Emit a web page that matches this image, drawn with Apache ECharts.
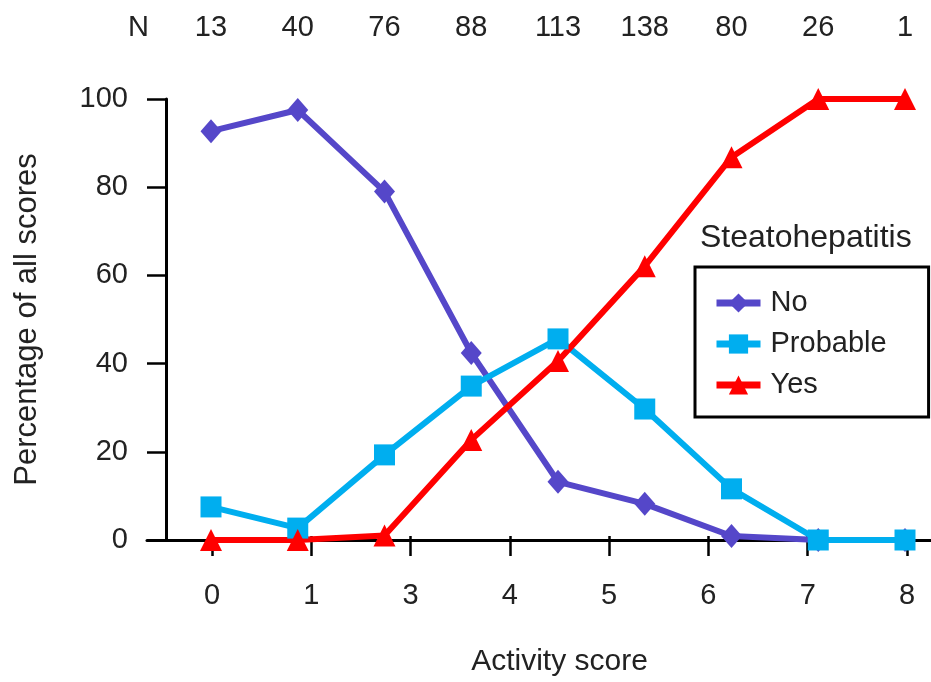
<!DOCTYPE html>
<html>
<head>
<meta charset="utf-8">
<script src="https://cdn.jsdelivr.net/npm/echarts@6/dist/echarts.min.js"></script>
<style>
  html, body { margin: 0; padding: 0; background: #fff; }
  #chart { width: 931px; height: 682px; }
</style>
</head>
<body>
<div id="chart"></div>
<script>
// N per activity score (top row) and the bottom tick labels
const nLabels = ['13', '40', '76', '88', '113', '138', '80', '26', '1'];
const scoreLabels = ['0', '1', '3', '4', '5', '6', '7', '8'];

// percentage of all scores
const noVals = [92.7, 97.5, 79, 42.4, 13.2, 8.2, 0.9, 0, 0];
const probableVals = [7.5, 2.7, 19.3, 34.9, 45.6, 29.7, 11.6, 0, 0];
const yesVals = [0, 0, 1, 22.7, 40.6, 62.1, 86.8, 100, 100];

const font = 'Liberation Sans, Arial, sans-serif';
const textColor = '#222';

var chart = echarts.init(document.getElementById('chart'));

var option = {
  animation: false,
  backgroundColor: '#fff',
  textStyle: { fontFamily: font },
  title: [
    {
      text: 'Steatohepatitis',
      left: 695,
      top: 217,
      textStyle: { fontFamily: font, fontSize: 32, fontWeight: 'normal', color: textColor }
    },
    {
      // the "N" heading of the top row
      text: 'N',
      left: 123,
      top: 8,
      textStyle: { fontFamily: font, fontSize: 29, fontWeight: 'normal', color: textColor }
    }
  ],
  legend: {
    orient: 'vertical',
    left: 695,
    top: 267,
    padding: [21, 42, 17, 18],
    borderColor: '#000',
    borderWidth: 3,
    itemWidth: 44,
    itemHeight: 24,
    itemGap: 11,
    lineStyle: { width: 7 },
    textStyle: { fontFamily: font, fontSize: 29, color: textColor, lineHeight: 30, padding: [0, 0, 0, 5] },
    data: ['No', 'Probable', 'Yes']
  },
  grid: [
    // axis frame: x line runs past the y axis to the right edge
    { left: 147, right: 0, top: 99, bottom: 142 },
    // data
    { left: 211, right: 26, top: 99, bottom: 142 },
    // bottom ticks
    { left: 212, right: 24, top: 99, bottom: 142 }
  ],
  xAxis: [
    {
      gridIndex: 0, type: 'value', min: 0, max: 1,
      axisLine: { onZero: false, lineStyle: { color: '#000', width: 3 } },
      axisTick: { show: false }, axisLabel: { show: false }, splitLine: { show: false }
    },
    {
      gridIndex: 1, type: 'category', data: nLabels, boundaryGap: false,
      position: 'top', offset: 71,
      axisLine: { show: false }, axisTick: { show: false },
      axisLabel: { margin: 0, verticalAlign: 'middle', fontFamily: font, fontSize: 29, color: textColor },
      splitLine: { show: false }
    },
    {
      gridIndex: 2, type: 'category', data: scoreLabels, boundaryGap: false,
      position: 'bottom',
      name: 'Activity score', nameLocation: 'middle', nameGap: 111,
      nameTextStyle: { fontFamily: font, fontSize: 30, color: textColor },
      axisLine: { show: false },
      axisTick: { show: true, alignWithLabel: true, length: 20, lineStyle: { color: '#000', width: 2.5 } },
      axisLabel: { margin: 45, fontFamily: font, fontSize: 29, color: textColor },
      splitLine: { show: false }
    }
  ],
  yAxis: [
    {
      gridIndex: 0, type: 'value', min: 0, max: 100, interval: 20, offset: -19,
      name: 'Percentage of all scores', nameLocation: 'middle', nameGap: 123,
      nameTextStyle: { fontFamily: font, fontSize: 31, color: textColor },
      axisLine: { show: true, onZero: false, lineStyle: { color: '#000', width: 3 } },
      axisTick: { show: true, length: 19, lineStyle: { color: '#000', width: 2.5 } },
      axisLabel: { margin: 38, fontFamily: font, fontSize: 29, color: textColor },
      splitLine: { show: false }
    },
    { gridIndex: 1, type: 'value', min: 0, max: 100, show: false },
    { gridIndex: 2, type: 'value', min: 0, max: 100, show: false }
  ],
  series: [
    {
      name: 'No', type: 'line', xAxisIndex: 1, yAxisIndex: 1,
      data: noVals, symbol: 'diamond', symbolSize: [21, 24], clip: false,
      color: '#5547c9', lineStyle: { width: 6, color: '#5547c9' }
    },
    {
      name: 'Probable', type: 'line', xAxisIndex: 1, yAxisIndex: 1,
      data: probableVals, symbol: 'rect', symbolSize: 21, clip: false,
      color: '#00aeef', lineStyle: { width: 6, color: '#00aeef' }
    },
    {
      name: 'Yes', type: 'line', xAxisIndex: 1, yAxisIndex: 1,
      data: yesVals, symbol: 'triangle', symbolSize: 22, clip: false,
      color: '#ff0000', lineStyle: { width: 6, color: '#ff0000' }
    }
  ]
};

option && chart.setOption(option);
</script>
</body>
</html>
